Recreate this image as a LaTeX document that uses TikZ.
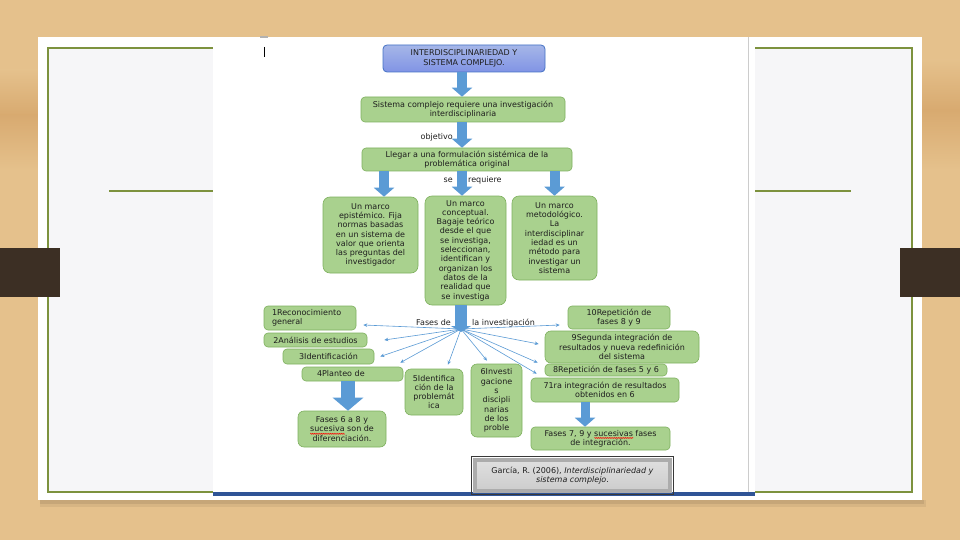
\documentclass[tikz,border=0pt]{standalone}
\usepackage{fontspec}
\setmainfont{DejaVu Sans}
\usetikzlibrary{arrows.meta,decorations.pathmorphing}
\definecolor{wood}{RGB}{229,193,140}
\definecolor{wooddark}{RGB}{216,170,112}
\definecolor{tabc}{RGB}{60,47,36}
\definecolor{framec}{RGB}{125,146,62}
\definecolor{panel}{RGB}{246,246,248}
\definecolor{gfill}{RGB}{169,209,142}
\definecolor{gline}{RGB}{126,176,94}
\definecolor{tfill}{RGB}{143,164,226}
\definecolor{tline}{RGB}{68,114,196}
\definecolor{ablue}{RGB}{91,155,213}
\definecolor{navy}{RGB}{47,84,150}
\definecolor{txt}{RGB}{30,30,30}
\newcommand\boxfont{\fontsize{8}{9.3}\selectfont}
\newcommand\titlefont{\fontsize{8}{10}\selectfont}
\newcommand\redwave[1]{\setbox0\hbox{#1}\rlap{\tikz[baseline=0pt]\draw[red, line width=0.45pt, sharp corners, decorate, decoration={zigzag, amplitude=0.55pt, segment length=1.8pt}] (0pt,-1.9pt) -- (\the\wd0,-1.9pt);}#1}
\begin{document}
\begin{tikzpicture}[x=1pt,y=-1pt,
  gbox/.style={draw=gline, line width=0.6pt, fill=gfill, rounded corners=4pt, align=center, inner sep=1pt, font=\boxfont, text=txt},
  tbox/.style={draw=tline, line width=0.8pt, top color=tfill!80!white, bottom color=tfill!90!blue, rounded corners=4pt, align=center, inner sep=1pt, font=\titlefont, text=txt},
  citebox/.style={draw=gray!65, line width=3.5pt, top color=gray!25, bottom color=gray!40, align=center, inner sep=2pt, font=\boxfont, text=txt},
  ray/.style={ablue, line width=0.6pt, -{Stealth[length=4pt,width=3.5pt]}},
  blk/.style={ablue, line width=10pt, -{Triangle[length=9pt,width=20pt]}},
  lbl/.style={font=\boxfont, text=txt, inner sep=0pt}
]
\useasboundingbox (0,0) rectangle (960,540);
% wood background
\fill[wood] (0,0) rectangle (960,540);
\shade[top color=wood, bottom color=wooddark] (0,70) rectangle (40,115);
\shade[top color=wooddark, bottom color=wood] (0,115) rectangle (40,170);
\shade[top color=wood, bottom color=wooddark] (922,60) rectangle (960,110);
\shade[top color=wooddark, bottom color=wood] (922,110) rectangle (960,170);
% slide shadow and slide
\fill[black, opacity=0.06] (40,500) rectangle (926,507);
\fill[black, opacity=0.08] (40,500) rectangle (924,504);
\fill[white] (38,37) rectangle (922,500);
\fill[panel] (48,48) rectangle (912,492);
\draw[framec, line width=2pt] (48,48) rectangle (912,492);
\draw[framec, line width=2pt] (109,191) -- (851,191);
% embedded picture
\fill[white] (213,37) rectangle (755,494);
\draw[gray!40, line width=0.5pt] (748,37) -- (748,492);
\draw[navy, line width=4pt] (213,494) -- (755,494);
\fill[gray!60] (260,36) rectangle (268,38);
\draw[black, line width=0.8pt] (264,47) -- (264,57);
% side tabs
\fill[tabc] (0,248) rectangle (60,297);
\fill[tabc] (900,248) rectangle (960,297);

% nodes
\node[tbox, minimum width=162pt, minimum height=27pt] (title) at (464,58.5) {INTERDISCIPLINARIEDAD Y\\SISTEMA COMPLEJO.};
\node[gbox, minimum width=204pt, minimum height=25pt] (req) at (463,109.5) {Sistema complejo requiere una investigación\\interdisciplinaria};
\node[gbox, minimum width=210pt, minimum height=23pt] (lleg) at (467,159.5) {Llegar a una formulación sistémica de la\\problemática original};
\node[gbox, rounded corners=7pt, minimum width=95pt, minimum height=76pt] (epi) at (370.5,235) {Un marco\\epistémico. Fija\\normas basadas\\en un sistema de\\valor que orienta\\las preguntas del\\investigador};
\node[gbox, rounded corners=7pt, minimum width=81pt, minimum height=109pt] (con) at (465.5,250.5) {Un marco\\conceptual.\\Bagaje teórico\\desde el que\\se investiga,\\seleccionan,\\identifican y\\organizan los\\datos de la\\realidad que\\se investiga};
\node[gbox, rounded corners=7pt, minimum width=85pt, minimum height=84pt] (met) at (554.5,238) {Un marco\\metodológico.\\La\\interdisciplinar\\iedad es un\\método para\\investigar un\\sistema};

\node[gbox, minimum width=92pt, minimum height=24pt, align=left, text width=76pt, inner xsep=8pt] (p1) at (310,318) {1Reconocimiento\\general};
\node[gbox, minimum width=103pt, minimum height=14pt] (p2) at (315.5,340) {2Análisis de estudios};
\node[gbox, minimum width=91pt, minimum height=15pt] (p3) at (328.5,356.5) {3Identificación};
\node[gbox, minimum width=101pt, minimum height=14pt, align=left, text width=71pt, inner xsep=15pt] (p4) at (352.5,374) {4Planteo de};
\node[gbox, rounded corners=6pt, minimum width=88pt, minimum height=36pt] (f68) at (342,429) {Fases 6 a 8 y\\\redwave{sucesiva} son de\\diferenciación.};
\node[gbox, rounded corners=6pt, minimum width=58pt, minimum height=46pt] (p5) at (434,392) {5Identifica\\ción de la\\problemát\\ica};
\node[gbox, rounded corners=6pt, minimum width=51pt, minimum height=73pt] (p6) at (496.5,400.5) {6Investi\\gacione\\s\\discipli\\narias\\de los\\proble};

\node[gbox, minimum width=102pt, minimum height=23pt] (p10) at (619,317.5) {10Repetición de\\fases 8 y 9};
\node[gbox, rounded corners=6pt, minimum width=154pt, minimum height=32pt] (p9) at (622,347) {9Segunda integración de\\resultados y nueva redefinición\\del sistema};
\node[gbox, minimum width=122pt, minimum height=12pt] (p8) at (606,370) {8Repetición de fases 5 y 6};
\node[gbox, minimum width=148pt, minimum height=24pt] (p7) at (605,390) {71ra integración de resultados\\obtenidos en 6};
\node[gbox, minimum width=139pt, minimum height=23pt] (f79) at (600.5,438.5) {Fases 7, 9 y \redwave{sucesivas} fases\\de integración.};

\node[citebox, minimum width=195pt, minimum height=31pt] (cite) at (572.5,475.5) {García, R. (2006), \textit{Interdisciplinariedad y}\\\textit{sistema complejo}.};
\draw[gray!45!black, line width=0.4pt] ([xshift=-1.75pt,yshift=-1.75pt]cite.south west) rectangle ([xshift=1.75pt,yshift=1.75pt]cite.north east);

% labels
\node[lbl, anchor=east] (lobj) at (453,137) {objetivo};
\node[lbl, anchor=east] (lse) at (453,180) {se};
\node[lbl, anchor=west] (lreq) at (468,180) {requiere};
\node[lbl, anchor=east] (lfa) at (451,323) {Fases de};
\node[lbl, anchor=west] (lfb) at (472,323) {la investigación};

% block arrows
\draw[blk] ([xshift=-2pt]title.south) -- ([xshift=-2pt]title.south |- req.north);
\draw[blk] ([xshift=-1pt]req.south) -- ([xshift=-1pt]req.south |- lleg.north);
\draw[blk] ([xshift=13.5pt]epi.north |- lleg.south) -- ([xshift=13.5pt]epi.north);
\draw[blk] ([xshift=-3.5pt]con.north |- lleg.south) -- ([xshift=-3.5pt]con.north);
\draw[blk] (met.north |- lleg.south) -- (met.north);
\coordinate (hub) at (461,332);
\draw[blk, line width=12pt, -{Triangle[length=6pt,width=20pt]}] ([xshift=-4.5pt]con.south) -- (hub);
\draw[blk, line width=14pt, -{Triangle[length=13pt,width=30pt]}] ([xshift=-4.5pt]p4.south) -- ([xshift=-4.5pt]p4.south |- f68.north);
\draw[blk, line width=9pt] ([xshift=-20pt]p7.south) -- ([xshift=-20pt]p7.south |- f79.north);

% radiating arrows
\coordinate (hubc) at (461,329);
\draw[ray] (hubc) -- ([xshift=7pt,yshift=-7pt]p1.east);
\draw[ray] (hubc) -- ([xshift=17pt]p2.east);
\draw[ray] (hubc) -- ([xshift=6pt]p3.east);
\draw[ray] (hubc) -- ([xshift=-3pt,yshift=4pt]p4.north east);
\draw[ray] (hubc) -- ([xshift=14pt,yshift=4pt]p5.north);
\draw[ray] (hubc) -- ([xshift=-9.5pt,yshift=3pt]p6.north);
\draw[ray] (hubc) -- ([xshift=-8pt,yshift=-7.5pt]p10.west);
\draw[ray] (hubc) -- ([xshift=-6pt,yshift=3pt]p9.west);
\draw[ray] (hubc) -- ([xshift=-7pt,yshift=1pt]p8.north west);
\draw[ray] (hubc) -- ([xshift=6pt,yshift=4pt]p7.north west);
\end{tikzpicture}
\end{document}
